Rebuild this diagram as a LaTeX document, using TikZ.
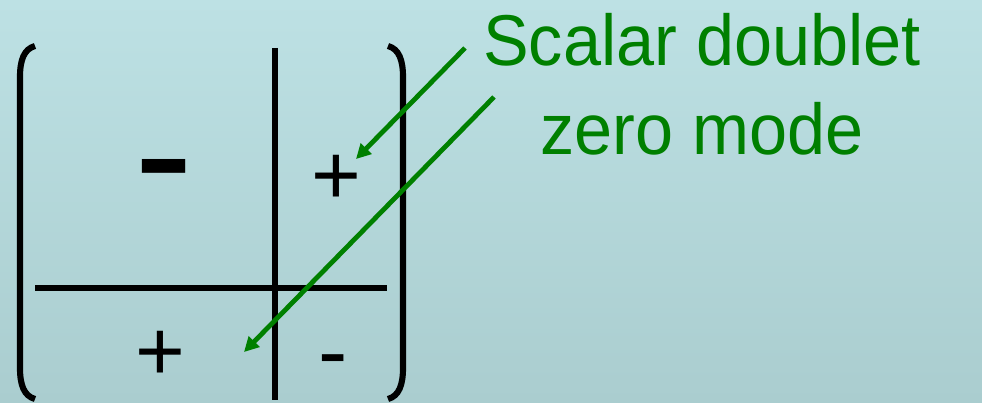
\documentclass[tikz,border=0pt]{standalone}
\usepackage{fontspec}
\setmainfont{Liberation Sans}
\newfontfamily\lblfont[FakeStretch=0.95]{Liberation Sans}
\usetikzlibrary{arrows.meta}
\definecolor{bgtop}{HTML}{BDE1E4}
\definecolor{bgbot}{HTML}{AACDCF}
\definecolor{zmgreen}{HTML}{008000}
\tikzset{
  brk/.style    = {draw=black, line width=4.6pt},
  gline/.style  = {draw=black, line width=4pt},
  sym/.style    = {inner sep=0pt, anchor=base, font=\fontsize{64}{64}\selectfont},
  dsym/.style   = {sym, font=\fontsize{66}{66}\selectfont},
  bigsym/.style = {sym, font=\fontsize{133}{133}\selectfont},
  lbl/.style    = {text=zmgreen, align=center, inner sep=0pt,
                   font=\lblfont\fontsize{54}{66.75}\selectfont},
  arr/.style    = {-{Triangle[length=11pt, width=11pt]}, draw=zmgreen,
                   line width=3.6pt},
}
\begin{document}
\begin{tikzpicture}[x=0.75pt, y=-0.75pt]
  % background
  \fill[top color=bgtop, bottom color=bgbot] (0,0) rectangle (982,403);
  \useasboundingbox (0,0) rectangle (982,403);

  % brackets
  \draw[brk] (35,46) .. controls (24,49) and (20,60) .. (20,77) -- (20,368)
             .. controls (20,385) and (24,396) .. (35,399);
  \draw[brk] (388,46) .. controls (399,49) and (403,60) .. (403,77) -- (403,368)
             .. controls (403,385) and (399,396) .. (388,399);

  % block lines
  \draw[gline] (275,48) -- (275,400);
  \draw[gline] (35,288) -- (387,288);

  % entries
  \node[bigsym] (mtl) at (164,213) {-};
  \node[sym]    (ptr) at (336,204) {+};
  \node[sym]    (pbl) at (160,380) {+};
  \node[dsym]   (mbr) at (333,381) {-};

  \node[lbl, anchor=base] (zm) at (702,154) {Scalar doublet\\zero mode};

  \coordinate (a1s) at (465,48);
  \coordinate (a1e) at (356,159);
  \coordinate (a2s) at (494,97);
  \coordinate (a2e) at (244,352);
  \draw[arr] (a1s) -- (a1e);
  \draw[arr] (a2s) -- (a2e);
\end{tikzpicture}
\end{document}
